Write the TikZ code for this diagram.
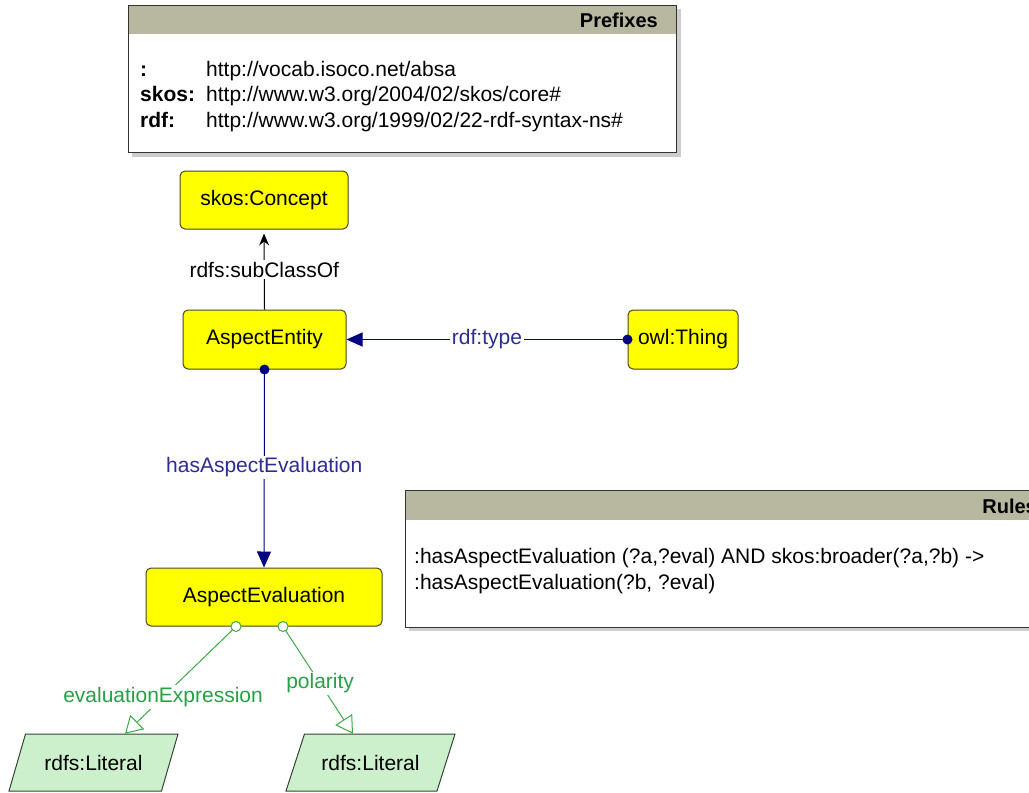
\documentclass[tikz,border=0pt]{standalone}
\usepackage{fontspec}
\setmainfont{Liberation Sans}
\usetikzlibrary{arrows.meta,calc}
\definecolor{hdr}{RGB}{184,184,160}
\definecolor{clsfill}{RGB}{255,255,0}
\definecolor{clsborder}{RGB}{70,70,40}
\definecolor{litfill}{RGB}{204,240,204}
\definecolor{litborder}{RGB}{50,70,50}
\definecolor{navy}{RGB}{0,0,128}
\definecolor{navytext}{RGB}{45,45,145}
\definecolor{grn}{RGB}{60,170,70}
\definecolor{grntext}{RGB}{40,160,70}
\definecolor{shadowc}{RGB}{205,205,205}
\begin{document}
\begin{tikzpicture}[x=1pt,y=-1pt,
  font=\fontsize{21}{25}\selectfont,
  cls/.style={draw=clsborder, fill=clsfill, rounded corners=5pt, line width=1pt, inner sep=0pt, text=black},
  litshape/.style={draw=litborder, fill=litfill, line width=1pt},
  lit/.style={inner sep=0pt, minimum width=153, minimum height=57},
  navyedge/.style={draw=navy, line width=1pt},
  grnedge/.style={draw=grn, line width=1pt, -{Triangle[open,length=17pt,width=20pt]}},
  navylbl/.style={fill=white, text=navytext, inner sep=2pt},
  grnlbl/.style={fill=white, text=grntext, inner sep=2pt},
  boxtext/.style={anchor=base west, inner sep=0pt},
  hdrtext/.style={anchor=base east, inner sep=0pt, font=\fontsize{20}{24}\selectfont\bfseries}
]
\clip (0,0) rectangle (1029,793);
\fill[white] (0,0) rectangle (1029,793);

% Prefixes box
\fill[shadowc] (132,9) rectangle (681,157);
\fill[white] (128,5) rectangle (676,152);
\fill[hdr] (128,5) rectangle (676,34);
\draw[line width=1pt, draw=black!80] (128,5) rectangle (676,152);
\node[hdrtext] (pfxhdr) at (658,27) {Prefixes};
\node[boxtext, font=\fontsize{21}{25}\selectfont\bfseries] (p1) at (140,76) {:};
\node[boxtext] (u1) at (206,76) {http://vocab.isoco.net/absa};
\node[boxtext, font=\fontsize{21}{25}\selectfont\bfseries] (p2) at (140,101) {skos:};
\node[boxtext] (u2) at (206,101) {http://www.w3.org/2004/02/skos/core\#};
\node[boxtext, font=\fontsize{21}{25}\selectfont\bfseries] (p3) at (140,127) {rdf:};
\node[boxtext] (u3) at (206,127) {http://www.w3.org/1999/02/22-rdf-syntax-ns\#};

% Rules box
\fill[shadowc] (409,494) rectangle (1040,631);
\fill[white] (405,490) rectangle (1036,627);
\fill[hdr] (405,490) rectangle (1036,520);
\draw[line width=1pt, draw=black!80] (405,490) rectangle (1036,627);
\node[hdrtext] (rulehdr) at (1037,513) {Rules};
\node[boxtext] (r1) at (414,563) {:hasAspectEvaluation (?a,?eval) AND skos:broader(?a,?b) ->};
\node[boxtext] (r2) at (414,589) {:hasAspectEvaluation(?b, ?eval)};

% Class nodes
\node[cls, minimum width=168, minimum height=58] (concept) at (264,200) {skos:Concept};
\node[cls, minimum width=163, minimum height=59] (entity) at (264.5,339.5) {AspectEntity};
\node[cls, minimum width=110, minimum height=59] (thing) at (683,339.5) {owl:Thing};
\node[cls, minimum width=236, minimum height=58] (aeval) at (264,597) {AspectEvaluation};

% Literals (parallelograms)
\coordinate (l1c) at (93.5,762.5);
\coordinate (l2c) at (370.5,762.5);
\filldraw[litshape] ($(l1c)+(-84.5,28.5)$) -- ($(l1c)+(68,28.5)$) -- ($(l1c)+(84.5,-28.5)$) -- ($(l1c)+(-68,-28.5)$) -- cycle;
\filldraw[litshape] ($(l2c)+(-84.5,28.5)$) -- ($(l2c)+(66.5,28.5)$) -- ($(l2c)+(84.5,-28.5)$) -- ($(l2c)+(-66,-28.5)$) -- cycle;
\node[lit] (lit1) at (l1c) {rdfs:Literal};
\node[lit] (lit2) at (l2c) {rdfs:Literal};

% subClassOf
\draw[line width=1pt, -{Stealth[length=12pt,width=10pt,inset=4pt]}, shorten >=4pt]
  (entity.north) -- node[fill=white, inner sep=2pt, text=black] (lsub) {rdfs:subClassOf} (concept.south);

% rdf:type
\draw[navyedge, -{Triangle[length=16pt,width=14pt]}]
  (thing.west) -- node[navylbl, pos=0.5] (ltype) {rdf:type} (entity.east);
\fill[navy] (thing.west) circle (5pt);

% hasAspectEvaluation
\draw[navyedge, -{Triangle[length=16pt,width=14pt]}]
  (entity.south) -- node[navylbl, pos=0.495] (lhas) {hasAspectEvaluation} (aeval.north);
\fill[navy] (entity.south) circle (5pt);

% green datatype properties
\coordinate (c1) at ($(aeval.south)+(-28,0)$);
\coordinate (c2) at ($(aeval.south)+(19,0)$);
\coordinate (t1) at ($(lit1.north)+(31.5,0)$);
\coordinate (t2) at ($(lit2.north)+(-17.5,0)$);
\draw[grnedge] (c1) -- node[grnlbl, pos=0.657] (lexp) {evaluationExpression} (t1);
\draw[grnedge] (c2) -- node[grnlbl, pos=0.53] (lpol) {polarity} (t2);
\draw[grn, line width=1pt, fill=white] (c1) circle (5pt);
\draw[grn, line width=1pt, fill=white] (c2) circle (5pt);
\end{tikzpicture}
\end{document}
